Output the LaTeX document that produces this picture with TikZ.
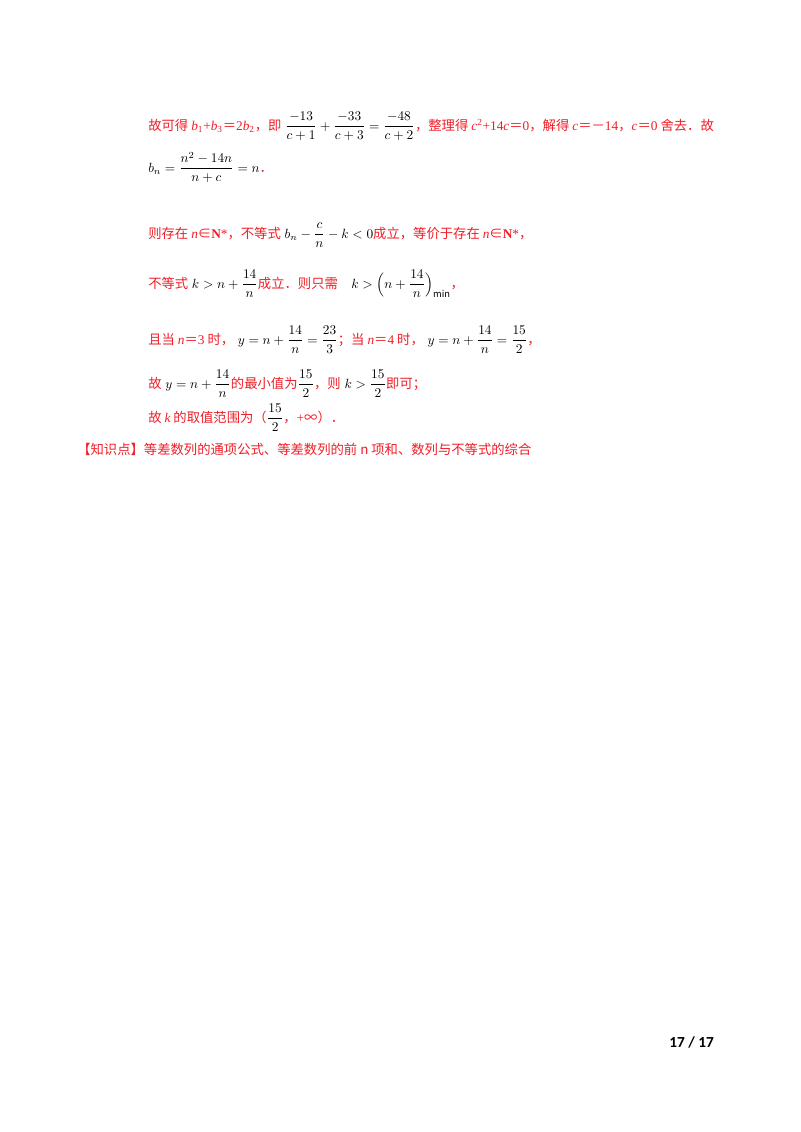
\documentclass[tikz,border=0pt]{standalone}
\usepackage{amsmath,amssymb}
\usepackage{fontspec}
\setmainfont{Noto Sans CJK SC}
\newfontfamily\tnr{Liberation Serif}
\newfontfamily\carl{Carlito}
\definecolor{rd}{RGB}{240,30,40}
\newcommand{\rr}[1]{\textcolor{rd}{#1}}
\newcommand{\iv}[1]{{\tnr\itshape #1}}
\newcommand{\tn}[1]{{\tnr #1}}
\newcommand{\mm}[1]{\textcolor{black}{$\displaystyle #1$}}
\begin{document}
\begin{tikzpicture}[x=0.75pt,y=-0.75pt,
  ln/.style={anchor=base west,inner sep=0pt,font=\fontsize{10}{12}\selectfont}]
\useasboundingbox (0,0) rectangle (800,1132);
\fill[white] (0,0) rectangle (800,1132);
\node[ln] (l1) at (148,130) {\rr{故可得 \iv{b}\tn{\textsubscript{1}+}\iv{b}\tn{\textsubscript{3}}＝\tn{2}\iv{b}\tn{\textsubscript{2}}，即}\mm{\;\frac{-13}{c+1}+\frac{-33}{c+3}=\frac{-48}{c+2}}\rr{，整理得 \iv{c}\tn{\textsuperscript{2}+14}\iv{c}＝\tn{0}，解得 \iv{c}＝－\tn{14}，\iv{c}＝\tn{0} 舍去．故}};
\node[ln] (l2) at (148,172) {\mm{b_n=\frac{n^2-14n}{n+c}=n}\rr{．}};
\node[ln] (l3) at (148,238) {\rr{则存在 \iv{n}∈\tn{\textbf{N}*}，不等式}\mm{\;b_n-\frac{c}{n}-k<0}\rr{成立，等价于存在 \iv{n}∈\tn{\textbf{N}*}，}};
\node[ln] (l4) at (148,288) {\rr{不等式}\mm{\;k>n+\frac{14}{n}}\rr{成立．则只需}\quad\mm{k>\Bigl(n+\frac{14}{n}\Bigr)_{\mathit{min}}}\rr{，}};
\node[ln] (l5) at (148,344) {\rr{且当 \iv{n}＝\tn{3} 时，}\mm{\;y=n+\frac{14}{n}=\frac{23}{3}}\rr{；当 \iv{n}＝\tn{4} 时，}\mm{\;y=n+\frac{14}{n}=\frac{15}{2}}\rr{，}};
\node[ln] (l6) at (148,388) {\rr{故}\mm{\;y=n+\frac{14}{n}}\rr{的最小值为}\mm{\frac{15}{2}}\rr{，则}\mm{\;k>\frac{15}{2}}\rr{即可；}};
\node[ln] (l7) at (148,422) {\rr{故 \iv{k} 的取值范围为（}\mm{\frac{15}{2}}\rr{，\tn{+}∞）．}};
\node[ln] (l8) at (77,454) {\rr{【知识点】等差数列的通项公式、等差数列的前 n 项和、数列与不等式的综合}};
\node[ln,font=\fontsize{11.5}{12}\carl\bfseries] (pg) at (669,1047) {17 / 17};
\end{tikzpicture}
\end{document}
